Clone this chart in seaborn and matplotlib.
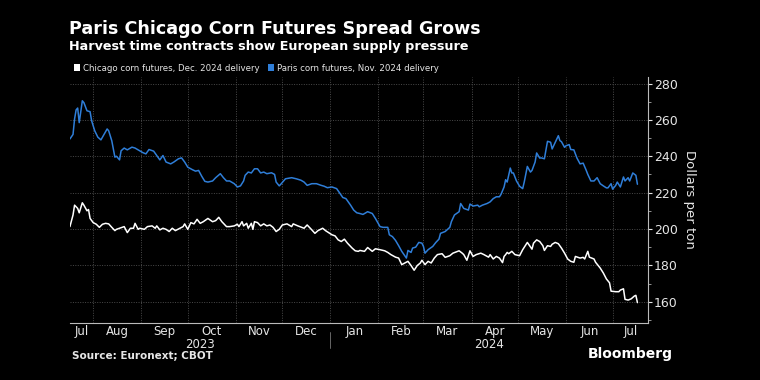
import matplotlib
matplotlib.use("Agg")
import matplotlib.pyplot as plt
import matplotlib.dates as mdates
from matplotlib.patches import Patch
from matplotlib.ticker import MultipleLocator, NullFormatter
import pandas as pd
import seaborn as sns

# --- Data (USD per ton) ---
chicago_dates = [
    "2023-07-17", "2023-07-19", "2023-07-20", "2023-07-22", "2023-07-23", "2023-07-25",
    "2023-07-26", "2023-07-28", "2023-07-29", "2023-07-30", "2023-08-01", "2023-08-03",
    "2023-08-05", "2023-08-07", "2023-08-09", "2023-08-11", "2023-08-13", "2023-08-15",
    "2023-08-16", "2023-08-18", "2023-08-21", "2023-08-23", "2023-08-25", "2023-08-27",
    "2023-08-28", "2023-08-30", "2023-08-31", "2023-09-03", "2023-09-05", "2023-09-08",
    "2023-09-10", "2023-09-11", "2023-09-13", "2023-09-15", "2023-09-17", "2023-09-19",
    "2023-09-21", "2023-09-23", "2023-09-26", "2023-09-28", "2023-09-29", "2023-10-01",
    "2023-10-03", "2023-10-05", "2023-10-07", "2023-10-09", "2023-10-11", "2023-10-14",
    "2023-10-17", "2023-10-19", "2023-10-21", "2023-10-23", "2023-10-26", "2023-10-28",
    "2023-10-31", "2023-11-02", "2023-11-03", "2023-11-05", "2023-11-06", "2023-11-08",
    "2023-11-09", "2023-11-11", "2023-11-12", "2023-11-13", "2023-11-15", "2023-11-17",
    "2023-11-19", "2023-11-21", "2023-11-23", "2023-11-25", "2023-11-27", "2023-11-29",
    "2023-12-01", "2023-12-04", "2023-12-07", "2023-12-08", "2023-12-11", "2023-12-15",
    "2023-12-17", "2023-12-20", "2023-12-22", "2023-12-24", "2023-12-27", "2023-12-29",
    "2024-01-02", "2024-01-04", "2024-01-06", "2024-01-08", "2024-01-10", "2024-01-12",
    "2024-01-15", "2024-01-17", "2024-01-19", "2024-01-20", "2024-01-23", "2024-01-25",
    "2024-01-28", "2024-01-30", "2024-02-02", "2024-02-05", "2024-02-07", "2024-02-09",
    "2024-02-12", "2024-02-14", "2024-02-16", "2024-02-18", "2024-02-20", "2024-02-22",
    "2024-02-24", "2024-02-26", "2024-02-28", "2024-02-29", "2024-03-02", "2024-03-04",
    "2024-03-06", "2024-03-08", "2024-03-10", "2024-03-13", "2024-03-15", "2024-03-18",
    "2024-03-20", "2024-03-24", "2024-03-26", "2024-03-27", "2024-03-29", "2024-03-31",
    "2024-04-02", "2024-04-04", "2024-04-07", "2024-04-09", "2024-04-12", "2024-04-13",
    "2024-04-15", "2024-04-17", "2024-04-19", "2024-04-21", "2024-04-22", "2024-04-23",
    "2024-04-24", "2024-04-25", "2024-04-27", "2024-04-29", "2024-05-02", "2024-05-04",
    "2024-05-06", "2024-05-07", "2024-05-10", "2024-05-11", "2024-05-13", "2024-05-15",
    "2024-05-17", "2024-05-18", "2024-05-20", "2024-05-22", "2024-05-23", "2024-05-25",
    "2024-05-27", "2024-05-29", "2024-05-31", "2024-06-02", "2024-06-04", "2024-06-06",
    "2024-06-07", "2024-06-10", "2024-06-12", "2024-06-13", "2024-06-15", "2024-06-16",
    "2024-06-19", "2024-06-20", "2024-06-23", "2024-06-25", "2024-06-27", "2024-06-29",
    "2024-06-30", "2024-07-03", "2024-07-05", "2024-07-06", "2024-07-08", "2024-07-09",
    "2024-07-11", "2024-07-13", "2024-07-15", "2024-07-16", "2024-07-17",
]
chicago_price = [
    201.3, 207.7, 213.1, 211.3, 208.9, 214.4,
    213.1, 210.0, 210.7, 205.8, 203.5, 202.6,
    200.9, 202.6, 203.1, 202.8, 200.9, 199.1,
    199.8, 200.4, 201.3, 198.0, 200.4, 200.4,
    203.1, 199.8, 200.4, 199.8, 201.3, 201.7,
    200.4, 201.7, 199.5, 200.4, 199.8, 198.6,
    200.4, 199.1, 200.4, 201.3, 202.8, 199.8,
    203.5, 202.8, 205.3, 203.1, 204.0, 205.8,
    204.0, 204.6, 206.4, 204.0, 201.3, 201.3,
    201.7, 202.6, 201.3, 204.0, 201.7, 203.1,
    200.4, 203.1, 199.8, 204.0, 203.5, 201.7,
    202.8, 201.7, 202.2, 200.9, 198.6, 199.8,
    202.2, 202.8, 201.3, 202.8, 201.7, 200.4,
    202.2, 199.5, 197.6, 199.1, 200.4, 199.0,
    196.8, 196.2, 194.0, 193.1, 194.4, 192.2,
    189.5, 188.0, 187.7, 188.2, 187.7, 189.8,
    187.7, 189.1, 188.6, 188.0, 187.1, 185.9,
    184.5, 184.0, 180.4, 181.3, 182.2, 179.9,
    177.3, 179.9, 181.3, 182.8, 180.4, 182.2,
    181.3, 184.0, 185.9, 186.4, 184.4, 185.3,
    186.7, 188.0, 186.7, 185.9, 182.8, 188.0,
    184.9, 185.9, 186.7, 185.9, 184.5, 185.9,
    183.5, 184.9, 184.0, 181.5, 184.9, 185.9,
    187.1, 186.4, 187.7, 185.9, 185.3, 188.6,
    191.3, 192.6, 188.9, 192.2, 194.0, 193.1,
    190.8, 188.2, 190.8, 190.4, 191.6, 192.6,
    191.9, 189.5, 186.7, 183.5, 182.2, 181.7,
    184.9, 184.0, 184.4, 183.5, 187.7, 184.5,
    183.5, 181.7, 178.5, 175.8, 172.5, 170.4,
    165.8, 165.5, 165.5, 166.4, 167.1, 161.3,
    160.9, 161.6, 163.1, 163.5, 159.5,
]

paris_dates = [
    "2023-07-17", "2023-07-19", "2023-07-20", "2023-07-21", "2023-07-22", "2023-07-23",
    "2023-07-25", "2023-07-26", "2023-07-28", "2023-07-30", "2023-07-31", "2023-08-02",
    "2023-08-04", "2023-08-06", "2023-08-08", "2023-08-10", "2023-08-11", "2023-08-13",
    "2023-08-15", "2023-08-16", "2023-08-18", "2023-08-19", "2023-08-21", "2023-08-23",
    "2023-08-26", "2023-08-28", "2023-08-30", "2023-09-02", "2023-09-04", "2023-09-06",
    "2023-09-09", "2023-09-11", "2023-09-13", "2023-09-15", "2023-09-17", "2023-09-20",
    "2023-09-22", "2023-09-25", "2023-09-27", "2023-09-29", "2023-10-01", "2023-10-04",
    "2023-10-06", "2023-10-08", "2023-10-10", "2023-10-12", "2023-10-14", "2023-10-17",
    "2023-10-19", "2023-10-22", "2023-10-24", "2023-10-26", "2023-10-28", "2023-10-31",
    "2023-11-02", "2023-11-04", "2023-11-06", "2023-11-07", "2023-11-09", "2023-11-11",
    "2023-11-13", "2023-11-15", "2023-11-17", "2023-11-19", "2023-11-21", "2023-11-24",
    "2023-11-26", "2023-11-27", "2023-11-29", "2023-11-30", "2023-12-03", "2023-12-07",
    "2023-12-10", "2023-12-13", "2023-12-15", "2023-12-17", "2023-12-20", "2023-12-23",
    "2023-12-26", "2023-12-28", "2023-12-30", "2024-01-02", "2024-01-05", "2024-01-07",
    "2024-01-09", "2024-01-11", "2024-01-14", "2024-01-16", "2024-01-18", "2024-01-20",
    "2024-01-22", "2024-01-25", "2024-01-28", "2024-01-30", "2024-02-02", "2024-02-04",
    "2024-02-07", "2024-02-08", "2024-02-10", "2024-02-12", "2024-02-14", "2024-02-16",
    "2024-02-19", "2024-02-20", "2024-02-22", "2024-02-23", "2024-02-25", "2024-02-27",
    "2024-02-29", "2024-03-01", "2024-03-02", "2024-03-04", "2024-03-07", "2024-03-09",
    "2024-03-11", "2024-03-12", "2024-03-15", "2024-03-18", "2024-03-19", "2024-03-21",
    "2024-03-24", "2024-03-25", "2024-03-27", "2024-03-30", "2024-03-31", "2024-04-02",
    "2024-04-05", "2024-04-06", "2024-04-08", "2024-04-11", "2024-04-13", "2024-04-15",
    "2024-04-17", "2024-04-19", "2024-04-20", "2024-04-22", "2024-04-23", "2024-04-24",
    "2024-04-26", "2024-04-27", "2024-04-28", "2024-04-30", "2024-05-02", "2024-05-04",
    "2024-05-05", "2024-05-07", "2024-05-09", "2024-05-10", "2024-05-12", "2024-05-13",
    "2024-05-15", "2024-05-16", "2024-05-18", "2024-05-20", "2024-05-22", "2024-05-23",
    "2024-05-25", "2024-05-27", "2024-05-28", "2024-05-29", "2024-05-31", "2024-06-01",
    "2024-06-03", "2024-06-04", "2024-06-06", "2024-06-08", "2024-06-10", "2024-06-12",
    "2024-06-14", "2024-06-15", "2024-06-17", "2024-06-19", "2024-06-21", "2024-06-23",
    "2024-06-25", "2024-06-27", "2024-06-28", "2024-06-30", "2024-07-01", "2024-07-03",
    "2024-07-04", "2024-07-06", "2024-07-08", "2024-07-09", "2024-07-11", "2024-07-12",
    "2024-07-14", "2024-07-16", "2024-07-17",
]
paris_price = [
    249.5, 252.0, 260.5, 265.5, 266.5, 258.5,
    270.5, 269.5, 265.0, 264.5, 259.5, 254.0,
    250.5, 249.0, 252.0, 255.0, 254.0, 248.5,
    239.5, 240.0, 238.0, 243.0, 244.5, 243.5,
    245.0, 244.5, 243.5, 242.0, 241.3, 243.7,
    242.8, 240.4, 238.0, 240.4, 236.8, 235.8,
    236.8, 238.6, 239.1, 236.8, 234.0, 232.6,
    231.8, 232.2, 229.0, 226.2, 225.8, 226.4,
    228.2, 230.4, 228.2, 226.4, 226.4, 224.9,
    223.1, 223.7, 226.4, 229.5, 231.3, 230.8,
    233.1, 233.1, 230.8, 231.3, 230.4, 230.9,
    230.0, 225.8, 223.7, 224.6, 227.6, 228.2,
    227.6, 226.8, 225.8, 224.0, 224.9, 224.9,
    224.0, 223.5, 222.7, 223.1, 222.2, 219.8,
    217.3, 216.7, 213.1, 210.4, 208.9, 208.5,
    208.0, 209.5, 208.5, 205.8, 201.3, 200.9,
    200.9, 196.8, 195.8, 193.7, 190.8, 187.7,
    184.0, 188.2, 187.1, 189.5, 190.0, 192.6,
    192.2, 190.4, 186.7, 188.6, 190.4, 192.6,
    194.4, 197.6, 198.6, 200.9, 204.0, 207.7,
    209.5, 214.0, 211.3, 210.4, 213.7, 212.6,
    213.1, 212.2, 213.1, 214.0, 214.9, 216.7,
    217.7, 217.7, 219.0, 223.1, 227.1, 225.8,
    233.5, 230.8, 230.8, 226.4, 223.5, 222.2,
    225.8, 234.4, 231.3, 232.2, 236.8, 241.8,
    239.0, 239.1, 238.6, 248.2, 247.7, 244.0,
    247.7, 251.3, 248.6, 248.0, 244.9, 245.8,
    246.4, 243.7, 243.5, 239.0, 235.8, 236.2,
    232.2, 230.0, 226.4, 226.4, 228.2, 224.9,
    223.7, 222.6, 222.6, 224.9, 221.9, 224.0,
    225.8, 223.1, 228.6, 226.4, 228.2, 226.4,
    230.8, 229.5, 224.6,
]

chicago_label = "Chicago corn futures, Dec. 2024 delivery"
paris_label = "Paris corn futures, Nov. 2024 delivery"
month_labels = ["Jul", "Aug", "Sep", "Oct", "Nov", "Dec", "Jan",
                "Feb", "Mar", "Apr", "May", "Jun", "Jul"]
year_labels = ["2023", "2024"]

WHITE = "#ffffff"
BLUE = "#2f7ed8"
TEXT = "#e6e6e6"
GRID = "#4a4a4a"

df = pd.concat([
    pd.DataFrame({"date": pd.to_datetime(chicago_dates), "price": chicago_price,
                  "series": chicago_label}),
    pd.DataFrame({"date": pd.to_datetime(paris_dates), "price": paris_price,
                  "series": paris_label}),
])

sns.set_theme(style="dark")
plt.rcParams["font.family"] = ["DejaVu Sans"]

fig = plt.figure(figsize=(7.6, 3.8), dpi=100, facecolor="black")
ax = fig.add_axes([0.092, 0.151, 0.761, 0.646])
ax.set_facecolor("black")

sns.lineplot(data=df, x="date", y="price", hue="series",
             palette={chicago_label: WHITE, paris_label: BLUE},
             linewidth=1.1, legend=False, ax=ax)

x0, x1 = pd.Timestamp("2023-07-17"), pd.Timestamp("2024-07-24")
ax.set_xlim(x0, x1)
ax.set_ylim(148.5, 283.5)

# y axis on the right
ax.yaxis.tick_right()
ax.yaxis.set_label_position("right")
ax.yaxis.set_major_locator(MultipleLocator(20))
ax.yaxis.set_minor_locator(MultipleLocator(10))
ax.tick_params(axis="y", which="major", colors=TEXT, labelsize=9, length=3,
               width=0.8, pad=1, direction="out", right=True, left=False)
ax.tick_params(axis="y", which="minor", colors="#aaaaaa", length=2,
               width=0.6, right=True, left=False)
for lab in ax.get_yticklabels():
    lab.set_color(TEXT)
ax.set_ylabel("Dollars per ton", color=TEXT, fontsize=9.5, rotation=-90,
              labelpad=13)
ax.set_xlabel("")

# month ticks at month starts, labels centred in each month
month_starts = pd.date_range("2023-08-01", "2024-07-01", freq="MS")
ax.xaxis.set_major_locator(mdates.MonthLocator())
ax.xaxis.set_major_formatter(NullFormatter())
ax.tick_params(axis="x", which="major", colors="#aaaaaa", length=3, width=0.6,
               direction="inout")
edges = [x0] + list(month_starts) + [x1]
mids = [edges[i] + (edges[i + 1] - edges[i]) / 2 for i in range(len(edges) - 1)]
ax.set_xticks(mids, minor=True)
ax.set_xticklabels(month_labels, minor=True)
ax.tick_params(axis="x", which="minor", length=0, labelsize=8.5,
               labelcolor=TEXT, pad=2)

# year labels and separator under the month row
jan1 = pd.Timestamp("2024-01-01")
trans = ax.get_xaxis_transform()
ax.text(x0 + (jan1 - x0) / 2, -0.062, year_labels[0], transform=trans,
        ha="center", va="top", color=TEXT, fontsize=8.5)
ax.text(jan1 + (x1 - jan1) / 2, -0.062, year_labels[1], transform=trans,
        ha="center", va="top", color=TEXT, fontsize=8.5)
ax.plot([jan1, jan1], [-0.04, -0.105], transform=trans, color="#777777",
        linewidth=0.6, clip_on=False)

ax.grid(True, which="major", axis="both", color=GRID, linestyle=(0, (1, 1.5)),
        linewidth=0.7)
for side in ["top", "left"]:
    ax.spines[side].set_visible(False)
for side in ["right", "bottom"]:
    ax.spines[side].set_color("#bbbbbb")
    ax.spines[side].set_linewidth(0.8)

# titles
fig.text(0.091, 0.925, "Paris Chicago Corn Futures Spread Grows", color=WHITE,
         fontsize=12.6, fontweight="bold", ha="left", va="center")
fig.text(0.091, 0.877, "Harvest time contracts show European supply pressure",
         color=WHITE, fontsize=9.2, fontweight="bold", ha="left", va="center")

handles = [Patch(facecolor=WHITE, edgecolor="none", label=chicago_label),
           Patch(facecolor=BLUE, edgecolor="none", label=paris_label)]
fig.legend(handles=handles, loc="center left", bbox_to_anchor=(0.093, 0.821),
           ncol=2, frameon=False, fontsize=6.2, labelcolor=TEXT,
           handlelength=0.7, handleheight=0.7, handletextpad=0.3,
           columnspacing=1.0, borderaxespad=0)

fig.text(0.095, 0.062, "Source: Euronext; CBOT", color=TEXT, fontsize=7.5,
         fontweight="bold", ha="left", va="center")
fig.text(0.885, 0.068, "Bloomberg", color=WHITE, fontsize=10,
         fontweight="bold", ha="right", va="center")

fig.savefig("out.png", dpi=100, facecolor="black")
